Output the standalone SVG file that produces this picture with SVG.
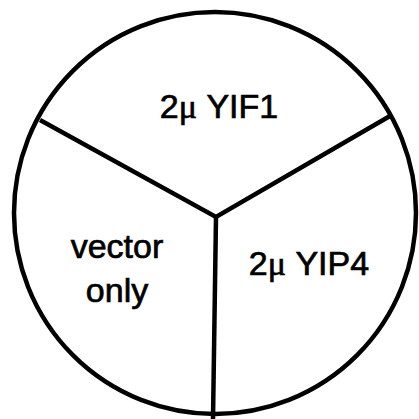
<svg xmlns="http://www.w3.org/2000/svg" width="419" height="419" viewBox="0 0 419 419">
<style>
.ln{fill:none;stroke:#000;stroke-width:4.5;stroke-linejoin:miter}
.t{font-family:"Liberation Sans",Arial,sans-serif;font-size:34px;fill:#000;stroke:#000;stroke-width:0.7}
.mu{font-family:"Liberation Serif","Times New Roman",serif}
</style>
<rect width="419" height="419" fill="#fff"/>
<g id="connectors">
<circle class="ln" cx="215" cy="213" r="201"/>
<polyline class="ln" points="40,120 216,217 390,116"/>
<line class="ln" x1="216" y1="217" x2="213" y2="419"/>
</g>
<g id="yif1"><text class="t" x="219" y="118" text-anchor="middle">2<tspan class="mu">μ</tspan> YIF1</text></g>
<g id="vector"><text class="t" x="117" y="258" text-anchor="middle">vector</text><text class="t" x="117" y="302" text-anchor="middle">only</text></g>
<g id="yip4"><text class="t" x="309" y="275" text-anchor="middle">2<tspan class="mu">μ</tspan> YIP4</text></g>
</svg>
